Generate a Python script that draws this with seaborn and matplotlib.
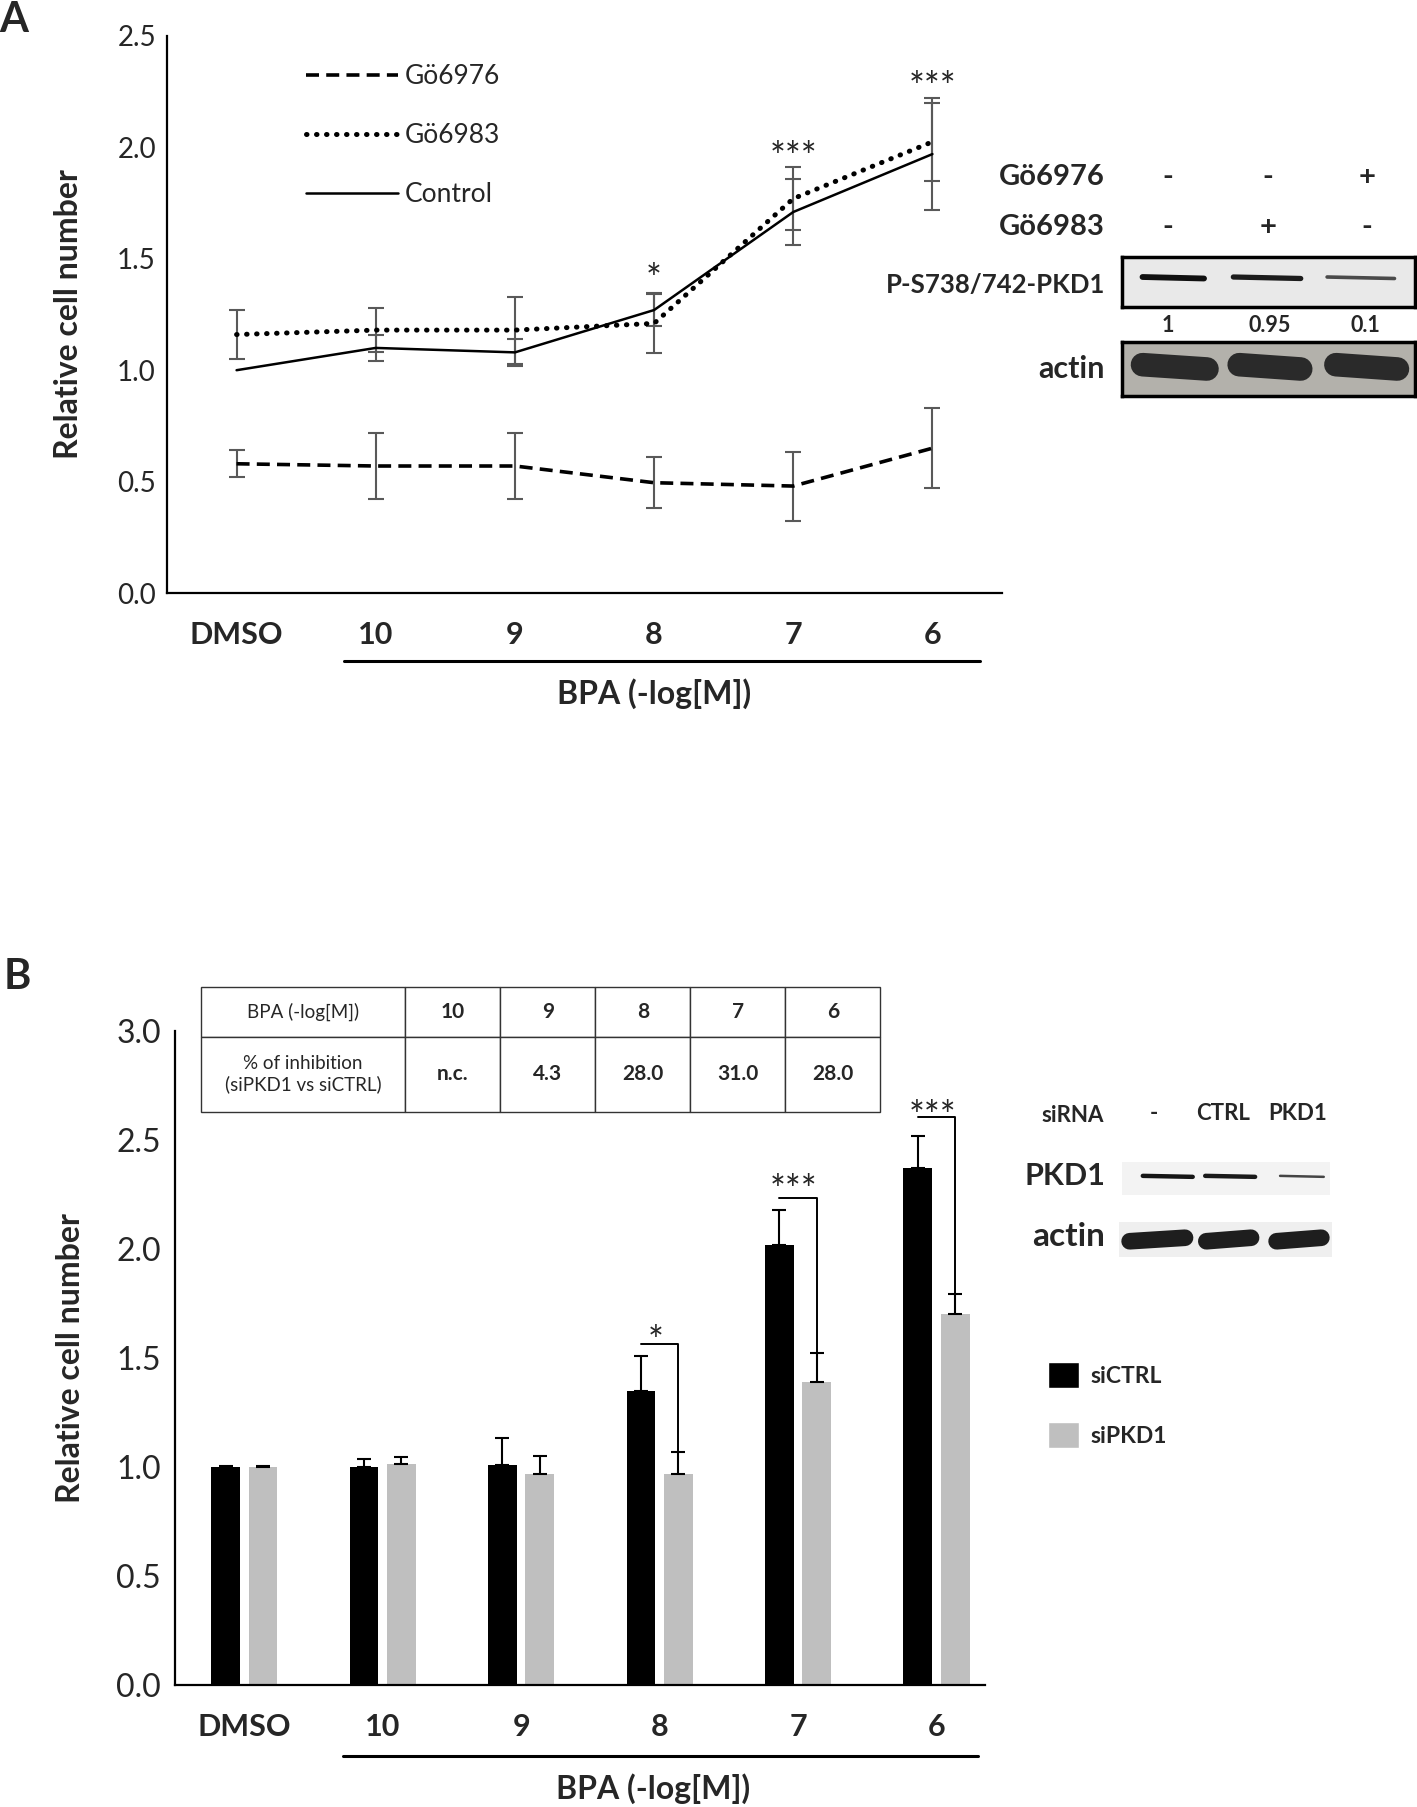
import numpy as np
import pandas as pd
import seaborn as sns
import matplotlib.pyplot as plt
from matplotlib.patches import Patch

# ---- data, panel A (growth curves with PKC inhibitors)
conditions = ['DMSO', '10', '9', '8', '7', '6']
ctrl_mean = [1.00, 1.10, 1.08, 1.27, 1.71, 1.97]
ctrl_err = [0.0, 0.06, 0.06, 0.07, 0.15, 0.25]
go6983_mean = [1.16, 1.18, 1.18, 1.21, 1.77, 2.025]
go6983_err = [0.11, 0.10, 0.15, 0.135, 0.14, 0.175]
go6976_mean = [0.58, 0.57, 0.57, 0.495, 0.48, 0.65]
go6976_err = [0.06, 0.15, 0.15, 0.115, 0.155, 0.18]
stars_a = {3: ('*', 1.40), 4: ('***', 1.95), 5: ('***', 2.26)}

blot_a_go6976 = ['-', '-', '+']
blot_a_go6983 = ['-', '+', '-']
blot_a_quant = ['1', '0.95', '0.1']

# ---- data, panel B (siRNA)
sictrl_mean = [1.00, 1.00, 1.01, 1.35, 2.02, 2.37]
sictrl_err = [0.004, 0.035, 0.125, 0.16, 0.16, 0.15]
sipkd1_mean = [1.00, 1.015, 0.97, 0.97, 1.39, 1.70]
sipkd1_err = [0.004, 0.03, 0.08, 0.10, 0.135, 0.095]
brackets_b = {3: ('*', 1.563, 1.57), 4: ('***', 2.235, 2.26), 5: ('***', 2.605, 2.60)}

table_head = ['BPA (-log[M])', '10', '9', '8', '7', '6']
table_row = ['% of inhibition\n(siPKD1 vs siCTRL)', 'n.c.', '4.3', '28.0', '31.0', '28.0']
blot_b_lanes = ['-', 'CTRL', 'PKD1']

sns.set_theme(style='white')
plt.rcParams['font.family'] = ['Lato', 'DejaVu Sans']
plt.rcParams['axes.edgecolor'] = 'black'
plt.rcParams['axes.linewidth'] = 1.6

W, H = 1417, 1807
fig = plt.figure(figsize=(W / 100, H / 100), dpi=100)


def box(x0, y0, x1, y1):
    # pixel box (top-left origin) -> figure rect
    return [x0 / W, 1 - y1 / H, (x1 - x0) / W, (y1 - y0) / H]


def ftext(x, y, s, **kw):
    fig.text(x / W, 1 - y / H, s, va='center', **kw)


pos = np.arange(len(conditions))

# ================= Panel A =================
axA = fig.add_axes(box(167, 36, 1002, 593))
series = [
    ('Gö6976', go6976_mean, go6976_err, dict(lw=2.6, linestyle=(0, (3.6, 2.0)))),
    ('Gö6983', go6983_mean, go6983_err, dict(lw=3.6, linestyle=(0, (0.1, 1.9)), dash_capstyle='round')),
    ('Control', ctrl_mean, ctrl_err, dict(lw=1.8, linestyle='-')),
]
for name, m, e, st in series:
    m = np.array(m)
    e = np.array(e)
    ok = e > 0
    axA.errorbar(pos[ok], m[ok], yerr=e[ok], fmt='none', ecolor='#595959',
                 elinewidth=1.5, capsize=5.5, capthick=1.5, zorder=1)
    sns.lineplot(x=pos, y=m, color='black', label=name, ax=axA, zorder=3, **st)

axA.legend(loc='upper left', bbox_to_anchor=(0.166, 0.95), frameon=False, fontsize=19,
           handlelength=3.5, handletextpad=0.25, labelspacing=1.3, borderpad=0, borderaxespad=0)

for i, (s, y) in stars_a.items():
    axA.text(i, y, s, ha='center', va='center', fontsize=27)

axA.set_xlim(-0.5, 5.5)
axA.set_ylim(0, 2.5)
axA.set_yticks(np.arange(0, 2.51, 0.5))
axA.set_yticklabels([f'{v:.1f}' for v in np.arange(0, 2.51, 0.5)], fontsize=20)
axA.set_xticks(pos)
axA.set_xticklabels(conditions, fontsize=22, fontweight='bold')
axA.tick_params(axis='x', length=0, pad=20)
axA.tick_params(axis='y', length=0, pad=8)
axA.set_ylabel('Relative cell number', fontsize=23, fontweight='bold')
axA.yaxis.set_label_coords(-0.10, 0.5)
axA.set_xlabel('')
sns.despine(ax=axA)
axA.plot([0.77, 5.34], [-0.122, -0.122], color='black', lw=2.2, clip_on=False,
         transform=axA.get_xaxis_transform())
axA.text(3.0, -0.18, 'BPA (-log[M])', ha='center', va='center', fontsize=23, fontweight='bold',
         transform=axA.get_xaxis_transform())

# ---- blot A
for lbl, row, y in [('Gö6976', blot_a_go6976, 177), ('Gö6983', blot_a_go6983, 227)]:
    ftext(1105, y, lbl, ha='right', fontsize=21, fontweight='bold')
    for x, s in zip([1168, 1268, 1367], row):
        ftext(x, y, s, ha='center', fontsize=21, fontweight='bold')
ftext(1105, 285, 'P-S738/742-PKD1', ha='right', fontsize=18.5, fontweight='bold')
ftext(1105, 369, 'actin', ha='right', fontsize=22, fontweight='bold')
for x, s in zip([1168, 1270, 1365], blot_a_quant):
    ftext(x, 325, s, ha='center', fontsize=15.5, fontweight='bold')

bA1 = fig.add_axes(box(1122, 257, 1415, 307))
bA1.set_facecolor('#e9e9e9')
for (x0, x1), lw, c in zip([(0.07, 0.28), (0.38, 0.61), (0.70, 0.93)], [4.2, 3.8, 2.6],
                           ['#101010', '#1c1c1c', '#4a4a4a']):
    bA1.plot([x0, x1], [0.6, 0.57], color=c, lw=lw, solid_capstyle='round')
bA2 = fig.add_axes(box(1122, 342, 1415, 396))
bA2.set_facecolor('#b3b1ab')
for x0, x1 in [(0.07, 0.29), (0.40, 0.61), (0.73, 0.94)]:
    bA2.plot([x0, x1], [0.58, 0.5], color='#2a2a2a', lw=17, solid_capstyle='round')
for b in (bA1, bA2):
    b.set_xlim(0, 1)
    b.set_ylim(0, 1)
    b.set_xticks([])
    b.set_yticks([])
    for sp in b.spines.values():
        sp.set_linewidth(2.5)
        sp.set_color('black')

# ================= Panel B =================
axB = fig.add_axes(box(175, 1031, 985, 1685))
dfB = pd.DataFrame({'cond': conditions * 2,
                    'siRNA': ['siCTRL'] * 6 + ['siPKD1'] * 6,
                    'value': sictrl_mean + sipkd1_mean})
pal = ['black', '#bfbfbf']
sns.barplot(data=dfB, x='cond', y='value', hue='siRNA', order=conditions,
            hue_order=['siCTRL', 'siPKD1'], palette=pal, saturation=1,
            width=0.54, gap=0.23, errorbar=None, legend=False, linewidth=0, ax=axB)
bar_conts = list(axB.containers[:2])
centers = []
for cont, m, e in zip(bar_conts, [sictrl_mean, sipkd1_mean], [sictrl_err, sipkd1_err]):
    xs = [p.get_x() + p.get_width() / 2 for p in cont]
    centers.append(xs)
    axB.errorbar(xs, m, yerr=[np.zeros(len(e)), e], fmt='none', ecolor='black',
                 elinewidth=1.5, capsize=5, capthick=1.5)

for i, (s, yl, ys) in brackets_b.items():
    xb, xg = centers[0][i], centers[1][i]
    axB.plot([xb, xg, xg], [yl, yl, sipkd1_mean[i] + sipkd1_err[i]], color='black', lw=1.4)
    axB.text((xb + xg) / 2 - 0.03, ys, s, ha='center', va='center', fontsize=27)

xlo, xhi = -0.5, 5.35
axB.set_xlim(xlo, xhi)
axB.set_ylim(0, 3.0)
axB.set_yticks(np.arange(0, 3.01, 0.5))
axB.set_yticklabels([f'{v:.1f}' for v in np.arange(0, 3.01, 0.5)], fontsize=23)
axB.set_xticks(pos)
axB.set_xticklabels(conditions, fontsize=22, fontweight='bold')
axB.tick_params(axis='x', length=0, pad=20)
axB.tick_params(axis='y', length=0, pad=10)
axB.set_ylabel('Relative cell number', fontsize=23, fontweight='bold')
axB.yaxis.set_label_coords(-0.111, 0.5)
axB.set_xlabel('')
sns.despine(ax=axB)
axB.plot([0.71, 5.30], [-0.109, -0.109], color='black', lw=2.2, clip_on=False,
         transform=axB.get_xaxis_transform())
axB.text(2.95, -0.158, 'BPA (-log[M])', ha='center', va='center', fontsize=23, fontweight='bold',
         transform=axB.get_xaxis_transform())


def fx(v):
    return (v - xlo) / (xhi - xlo)


tb = axB.table(cellText=[table_head, table_row], cellLoc='center',
               colWidths=[1.48] + [0.686] * 5,
               bbox=[fx(-0.315), 2.63 / 3, fx(4.594) - fx(-0.315), (3.20 - 2.63) / 3])
tb.auto_set_font_size(False)
for (r, c), cell in tb.get_celld().items():
    cell.set_height(0.4 if r == 0 else 0.6)
    cell.set_linewidth(1.0)
    cell.set_edgecolor('#333333')
    cell.set_clip_on(False)
    t = cell.get_text()
    t.set_clip_on(False)
    if c == 0:
        t.set_fontsize(13.5)
    else:
        t.set_fontsize(15)
        t.set_fontweight('bold')

handles = [Patch(facecolor=pal[0], label='siCTRL'), Patch(facecolor=pal[1], label='siPKD1')]
axB.legend(handles=handles, loc='upper left', bbox_to_anchor=(1.078, 0.494), frameon=False,
           prop={'weight': 'bold', 'size': 16.5}, handlelength=1.36, handleheight=1.36,
           handletextpad=0.5, labelspacing=1.5, borderpad=0, borderaxespad=0)

# ---- blot B
ftext(1073, 1116, 'siRNA', ha='center', fontsize=16, fontweight='bold')
for x, s in zip([1154, 1223, 1298], blot_b_lanes):
    ftext(x, 1114, s, ha='center', fontsize=16, fontweight='bold')
ftext(1105, 1176, 'PKD1', ha='right', fontsize=22, fontweight='bold')
ftext(1105, 1237, 'actin', ha='right', fontsize=24, fontweight='bold')
bB1 = fig.add_axes(box(1122, 1162, 1330, 1195))
bB1.set_facecolor('#f3f3f3')
for (x0, x1), lw, c in zip([(0.10, 0.34), (0.40, 0.64), (0.76, 0.97)], [3.2, 3.2, 1.8],
                           ['#151515', '#1a1a1a', '#444444']):
    bB1.plot([x0, x1], [0.58, 0.55], color=c, lw=lw, solid_capstyle='round')
bB2 = fig.add_axes(box(1119, 1222, 1332, 1257))
bB2.set_facecolor('#efefef')
for x0, x1 in [(0.05, 0.31), (0.41, 0.62), (0.74, 0.95)]:
    bB2.plot([x0, x1], [0.45, 0.55], color='#1e1e1e', lw=12, solid_capstyle='round')
for b in (bB1, bB2):
    b.set_xlim(0, 1)
    b.set_ylim(0, 1)
    b.set_xticks([])
    b.set_yticks([])
    for sp in b.spines.values():
        sp.set_visible(False)

ftext(14, 20, 'A', ha='center', fontsize=30, fontweight='bold')
ftext(17, 977, 'B', ha='center', fontsize=30, fontweight='bold')

fig.savefig('out.png', dpi=100, facecolor='white')
